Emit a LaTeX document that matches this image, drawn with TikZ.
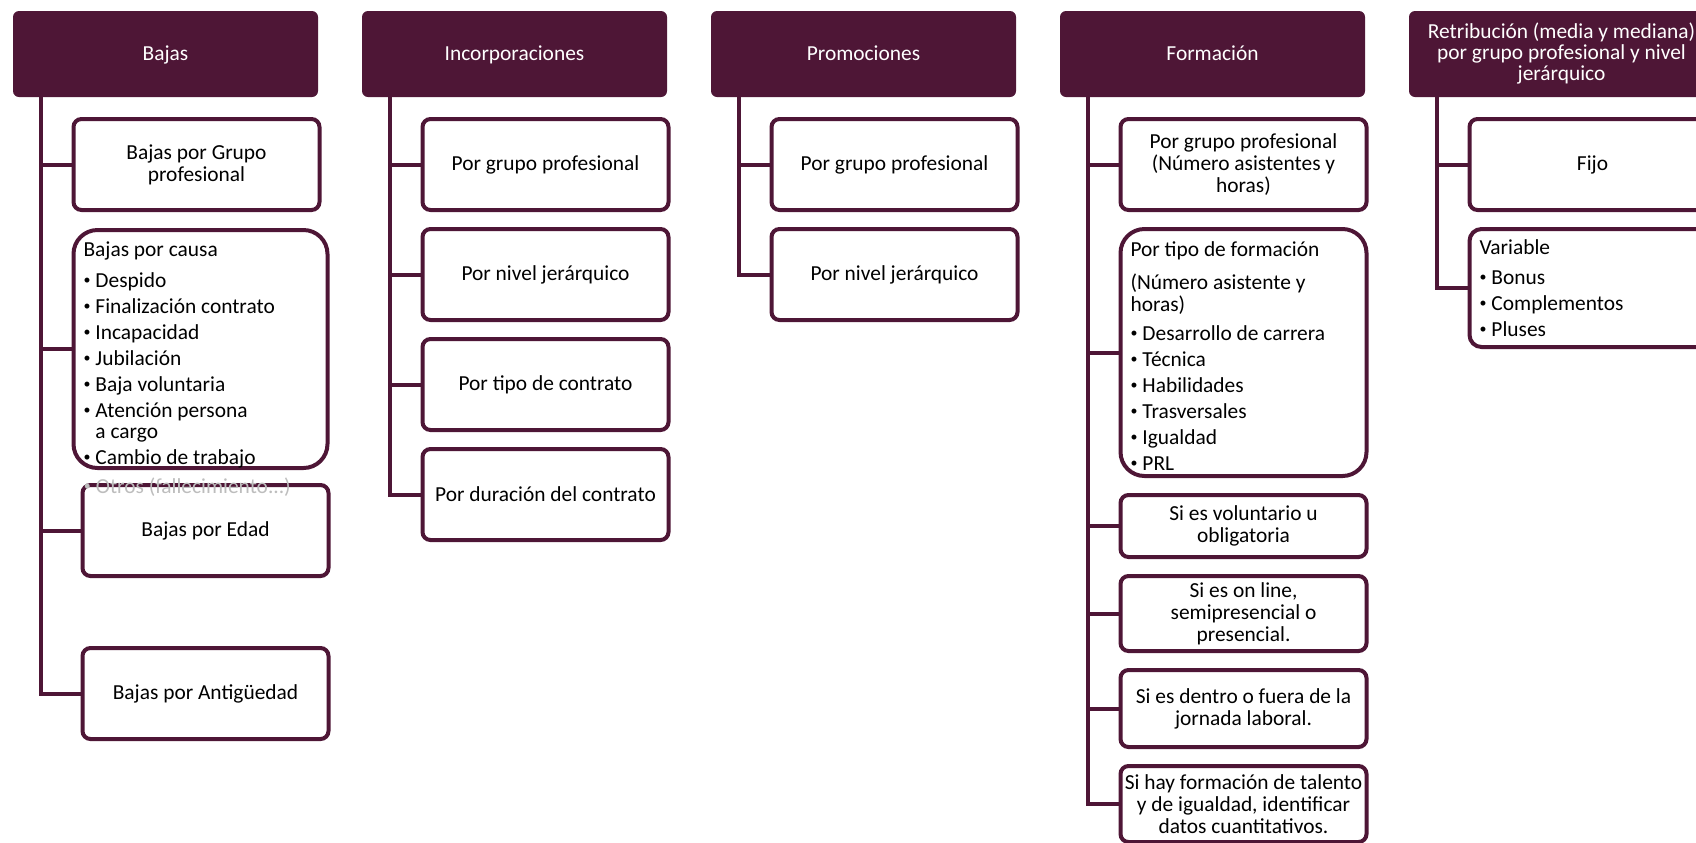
\documentclass[tikz,border=0pt]{standalone}
\usepackage{fontspec}
\setmainfont{Carlito}
\usepackage{tikz}
\usetikzlibrary{positioning}
\definecolor{vino}{RGB}{78,22,54}
\newcommand{\punto}{\raisebox{1.3pt}{\fontsize{7pt}{7pt}\selectfont\textbullet}\hspace{2.5pt}}

\begin{document}
\begin{tikzpicture}[x=0.5pt,y=-0.5pt,node distance=7.5pt,
  head node/.style={rectangle,rounded corners=3pt,fill=vino,text=white,outer sep=0pt,
    minimum width=152.5pt,minimum height=43pt,align=center,
    font=\fontsize{10.7pt}{10.5pt}\selectfont,execute at begin node=\rule[-2pt]{0pt}{10pt}},
  item node/.style={rectangle,rounded corners=4pt,draw=vino,line width=2pt,fill=white,
    minimum width=123pt,minimum height=45.5pt,inner xsep=2pt,inner ysep=2pt,align=center,
    font=\fontsize{10.7pt}{11pt}\selectfont},
  list node/.style={item node,rounded corners=12pt,align=flush left,inner xsep=5pt,
    text width=113pt,minimum width=0pt,minimum height=0pt,
    font=\fontsize{10.7pt}{13pt}\selectfont},
  link/.style={draw=vino,line width=2pt}]
\useasboundingbox (0,0) rectangle (1696,842);

% cabeceras
\node[head node] (h1) at (165.5,54) {Bajas};
\node[head node] (h2) [right=22pt of h1] {Incorporaciones};
\node[head node] (h3) [right=22pt of h2] {Promociones};
\node[head node] (h4) [right=22pt of h3] {Formación};
\node[head node,execute at begin node=\rule{0pt}{14pt}] (h5) [right=22pt of h4]
  {Retribución (media y mediana)\\por grupo profesional y nivel\\jerárquico};

% Bajas
\node[item node] (b1) [below=10pt of h1,xshift=15.5pt] {Bajas por Grupo\\profesional};
\node[list node,text width=117pt] (b2) [below right=8pt and 0pt of b1.south west]
  {\rule{0pt}{11pt}Bajas por causa\\[2.5pt]
   \punto Despido\\ \punto Finalización contrato\\ \punto Incapacidad\\
   \punto Jubilación\\ \punto Baja voluntaria\\ \punto Atención persona\\[-2.5pt]
   \phantom{\punto}a cargo\\ \raisebox{0pt}[\height][0pt]{\punto Cambio de trabajo}};
\node[item node] (b3) [below right=6.5pt and 4.5pt of b2.south west] {Bajas por Edad};
\node[item node] (b4) [below=34pt of b3] {Bajas por Antigüedad};
\node[text=black!26,anchor=west,inner sep=0pt,font=\fontsize{10.7pt}{13pt}\selectfont] (otros)
  at ([xshift=6pt,yshift=-8.5pt]b2.south west) {\punto Otros (fallecimiento...)};
\coordinate (s1) at ([xshift=14pt]h1.south west);
\draw[link] (s1) |- (b1.west) (s1) |- (b2.west) (s1) |- (b3.west) (s1) |- (b4.west);

% Incorporaciones
\node[item node] (i1) [below=10pt of h2,xshift=15.5pt] {Por grupo profesional};
\node[item node] (i2) [below=of i1] {Por nivel jerárquico};
\node[item node] (i3) [below=of i2] {Por tipo de contrato};
\node[item node] (i4) [below=of i3] {Por duración del contrato};
\coordinate (s2) at ([xshift=14pt]h2.south west);
\draw[link] (s2) |- (i1.west) (s2) |- (i2.west) (s2) |- (i3.west) (s2) |- (i4.west);

% Promociones
\node[item node] (p1) [below=10pt of h3,xshift=15.5pt] {Por grupo profesional};
\node[item node] (p2) [below=of p1] {Por nivel jerárquico};
\coordinate (s3) at ([xshift=14pt]h3.south west);
\draw[link] (s3) |- (p1.west) (s3) |- (p2.west);

% Formacion
\node[item node] (f1) [below=10pt of h4,xshift=15.5pt] {Por grupo profesional\\(Número asistentes y\\horas)};
\node[list node,minimum height=123.5pt] (f2) [below=of f1]
  {\rule{0pt}{11pt}Por tipo de formación\\[3.5pt]
   (Número asistente y\\[-2pt]horas)\\[1.5pt]
   \punto Desarrollo de carrera\\ \punto Técnica\\ \punto Habilidades\\
   \punto Trasversales\\ \punto Igualdad\\ \punto PRL};
\node[item node,minimum height=31pt] (f3) [below=of f2] {Si es voluntario u\\obligatoria};
\node[item node,minimum height=37.5pt] (f4) [below=of f3] {Si es on line,\\semipresencial o\\presencial.};
\node[item node,minimum height=38.5pt] (f5) [below=of f4] {Si es dentro o fuera de la\\jornada laboral.};
\node[item node,minimum height=38pt] (f6) [below=of f5] {Si hay formación de talento\\y de igualdad, identificar\\datos cuantitativos.};
\coordinate (s4) at ([xshift=14pt]h4.south west);
\draw[link] (s4) |- (f1.west) (s4) |- (f2.west) (s4) |- (f3.west) (s4) |- (f4.west)
  (s4) |- (f5.west) (s4) |- (f6.west);

% Retribucion
\node[item node] (r1) [below=10pt of h5,xshift=15.5pt] {Fijo};
\node[list node,rounded corners=6pt,minimum height=59pt] (r2) [below=of r1]
  {Variable\\[2pt]\punto Bonus\\ \punto Complementos\\ \punto Pluses};
\coordinate (s5) at ([xshift=14pt]h5.south west);
\draw[link] (s5) |- (r1.west) (s5) |- (r2.west);
\end{tikzpicture}
\end{document}
